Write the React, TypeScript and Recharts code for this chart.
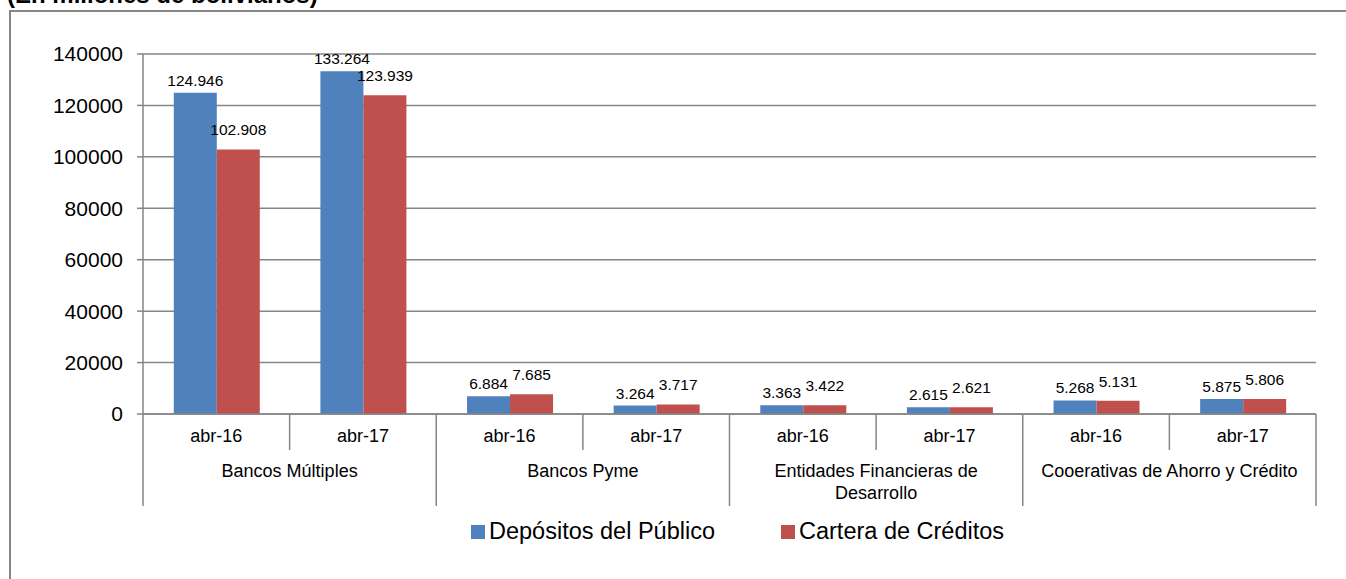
import { BarChart, Bar, XAxis, YAxis, CartesianGrid, Legend, LabelList } from "recharts";

const GROUPS = [
  "Bancos Múltiples",
  "Bancos Pyme",
  "Entidades Financieras de\nDesarrollo",
  "Cooerativas de Ahorro y Crédito",
];
const PERIODS = ["abr-16", "abr-17"];
const DEPOSITOS = [124946, 133264, 6884, 3264, 3363, 2615, 5268, 5875];
const CARTERA = [102908, 123939, 7685, 3717, 3422, 2621, 5131, 5806];
const Y_TICKS = [0, 20000, 40000, 60000, 80000, 100000, 120000, 140000];
const SERIES_ORDER = ["depositos", "cartera"];

const W = 1346;
const H = 579;
const PLOT_LEFT = 143;
const PLOT_RIGHT = 1316;
const GRAY = "#868686";
const BLUE = "#4F81BD";
const RED = "#C0504D";
const FONT = "'Liberation Sans', Arial, sans-serif";

const data = DEPOSITOS.map((d, i) => ({
  period: PERIODS[i % 2],
  group: GROUPS[Math.floor(i / 2)],
  depositos: d,
  cartera: CARTERA[i],
}));

const fmt = (v: number | string) =>
  String(v).replace(/\B(?=(\d{3})+(?!\d))/g, ".");

function CategoryTick(props: any) {
  const { x, y, payload, index } = props;
  const half = (PLOT_RIGHT - PLOT_LEFT) / data.length / 2;
  const groupStart = index % 2 === 0;
  const last = index === data.length - 1;
  const lines = index % 2 === 1 ? data[index].group.split("\n") : [];
  return (
    <g>
      <line x1={x - half} x2={x - half} y1={y} y2={y + (groupStart ? 92 : 36)} stroke={GRAY} strokeWidth={1.5} />
      {last && <line x1={x + half} x2={x + half} y1={y} y2={y + 92} stroke={GRAY} strokeWidth={1.5} />}
      <text x={x} y={y + 28} textAnchor="middle" fontSize={18} fill="#000" fontFamily={FONT}>
        {payload.value}
      </text>
      {lines.map((l: string, k: number) => (
        <text key={k} x={x - half} y={y + 63 + k * 22} textAnchor="middle" fontSize={18} fill="#000" fontFamily={FONT}>
          {l}
        </text>
      ))}
    </g>
  );
}

function LegendContent(props: any) {
  const items = [...(props.payload || [])].sort(
    (a: any, b: any) => SERIES_ORDER.indexOf(a.dataKey) - SERIES_ORDER.indexOf(b.dataKey)
  );
  return (
    <div style={{ display: "flex", alignItems: "center", fontFamily: FONT, fontSize: 23.5, color: "#000" }}>
      {items.map((it: any, i: number) => (
        <div key={i} style={{ display: "flex", alignItems: "center", marginRight: i === 0 ? 66 : 0 }}>
          <span style={{ width: 14, height: 14, background: it.color, display: "inline-block", marginRight: 4 }} />
          <span>{it.value}</span>
        </div>
      ))}
    </div>
  );
}

export default function App() {
  return (
    <div style={{ position: "absolute", left: 0, top: 0, width: W, height: H, overflow: "hidden", background: "#fff" }}>
      <div style={{ position: "absolute", left: 9, top: 10, width: 1400, height: 700, border: `2px solid ${GRAY}` }} />
      <svg style={{ position: "absolute", left: 0, top: 0 }} width={W} height={20}>
        <text x={7} y={3} fontSize={24} fontWeight="bold" fontFamily={FONT} fill="#000">
          (En millones de bolivianos)
        </text>
      </svg>
      <div style={{ position: "absolute", left: 0, top: 0 }}>
        <BarChart
          width={W}
          height={H}
          data={data}
          margin={{ top: 54, right: W - PLOT_RIGHT, bottom: 73, left: 0 }}
          barCategoryGap="21%"
          barGap={0}
        >
          <CartesianGrid vertical={false} stroke={GRAY} strokeWidth={1.5} />
          <XAxis
            dataKey="period"
            height={92}
            tickSize={0}
            tickMargin={0}
            tickLine={false}
            axisLine={{ stroke: GRAY, strokeWidth: 1.5 }}
            interval={0}
            tick={<CategoryTick />}
          />
          <YAxis
            width={PLOT_LEFT}
            domain={[0, 140000]}
            ticks={Y_TICKS}
            interval={0}
            tickSize={6}
            tickMargin={14}
            tickLine={{ stroke: GRAY, strokeWidth: 1.5 }}
            axisLine={{ stroke: GRAY, strokeWidth: 1.5 }}
            tick={{ fontSize: 21, fill: "#000", fontFamily: FONT }}
          />
          <Legend
            verticalAlign="middle"
            align="center"
            wrapperStyle={{ top: 518, left: 471, width: "auto" }}
            content={<LegendContent />}
          />
          <Bar dataKey="depositos" name="Depósitos del Público" fill={BLUE} isAnimationActive={false}>
            <LabelList dataKey="depositos" position="top" offset={7} formatter={fmt} style={{ fontSize: 15.5, fill: "#000", fontFamily: FONT }} />
          </Bar>
          <Bar dataKey="cartera" name="Cartera de Créditos" fill={RED} isAnimationActive={false}>
            <LabelList dataKey="cartera" position="top" offset={14} formatter={fmt} style={{ fontSize: 15.5, fill: "#000", fontFamily: FONT }} />
          </Bar>
        </BarChart>
      </div>
    </div>
  );
}
